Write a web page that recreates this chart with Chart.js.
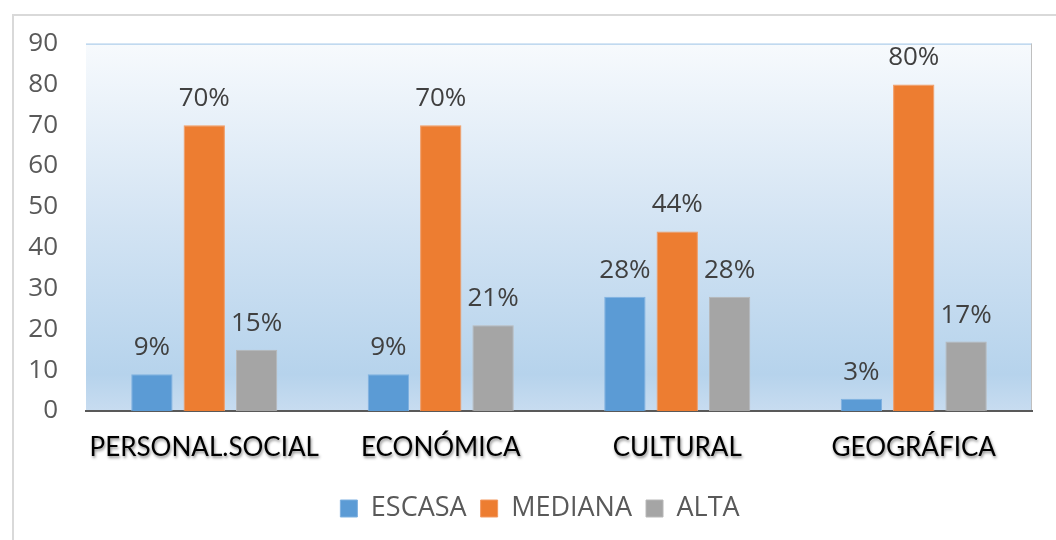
<!DOCTYPE html>
<html>
<head>
<meta charset="utf-8">
<script src="https://cdn.jsdelivr.net/npm/chart.js@4.4.0/dist/chart.umd.min.js"></script>
<style>
    body { margin: 0; background: #fff; }
    #wrap { position: relative; width: 1056px; height: 540px; overflow: hidden; }
    #frame { position: absolute; left: 12px; top: 14px; width: 1100px; height: 600px; border: 2px solid #d9d9d9; box-sizing: border-box; }
    canvas { position: absolute; left: 0; top: 0; }
</style>
</head>
<body>
<div id="wrap">
    <div id="frame"></div>
    <canvas id="chart1" width="1056" height="540"></canvas>
</div>
<script>
const categories = ['PERSONAL.SOCIAL', 'ECONÓMICA', 'CULTURAL', 'GEOGRÁFICA'];
const escasa = [9, 9, 28, 3];
const mediana = [70, 70, 44, 80];
const alta = [15, 21, 28, 17];
const seriesNames = ['ESCASA', 'MEDIANA', 'ALTA'];
const yTicks = [0, 10, 20, 30, 40, 50, 60, 70, 80, 90];

// plot background + frame lines
const plotBg = {
    id: 'plotBg',
    beforeDraw(chart) {
        const { ctx, chartArea: a } = chart;
        const g = ctx.createLinearGradient(0, a.top, 0, a.bottom);
        g.addColorStop(0, '#f7fafd');
        g.addColorStop(0.5, '#d2e3f3');
        g.addColorStop(0.9, '#b6d3ec');
        g.addColorStop(1, '#c8dcf0');
        ctx.save();
        ctx.fillStyle = g;
        ctx.fillRect(a.left, a.top, a.right - a.left, a.bottom - a.top);
        ctx.lineWidth = 1;
        ctx.strokeStyle = '#9dc3e6';
        ctx.beginPath();
        ctx.moveTo(a.left, a.top + 0.5);
        ctx.lineTo(a.right, a.top + 0.5);
        ctx.stroke();
        ctx.strokeStyle = '#bfbfbf';
        ctx.beginPath();
        ctx.moveTo(a.right - 0.5, a.top);
        ctx.lineTo(a.right - 0.5, a.bottom);
        ctx.stroke();
        ctx.restore();
    }
};

// percentage labels above bars + category labels with shadow
const barLabels = {
    id: 'barLabels',
    afterDatasetsDraw(chart) {
        const { ctx } = chart;
        ctx.save();
        ctx.font = '26px "Open Sans"';
        ctx.fillStyle = '#404040';
        ctx.textAlign = 'center';
        ctx.textBaseline = 'alphabetic';
        chart.data.datasets.forEach(function(ds, i) {
            chart.getDatasetMeta(i).data.forEach(function(bar, j) {
                ctx.fillText(ds.data[j] + '%', bar.x, bar.y - 19);
            });
        });

        const x = chart.scales.x;
        ctx.font = '26px Lato';
        ctx.fillStyle = '#000';
        ctx.textBaseline = 'middle';
        ctx.shadowColor = 'rgba(0,0,0,0.45)';
        ctx.shadowBlur = 3;
        ctx.shadowOffsetX = 1;
        ctx.shadowOffsetY = 2;
        categories.forEach(function(c, i) {
            ctx.fillText(c, x.getPixelForTick(i), 448);
        });
        ctx.restore();
    }
};

const ctx = document.getElementById('chart1').getContext('2d');
const chart = new Chart(ctx, {
    type: 'bar',
    data: {
        labels: categories,
        datasets: [
            { label: seriesNames[0], data: escasa, backgroundColor: '#5b9bd5', borderColor: '#7fb1e0', borderWidth: 1 },
            { label: seriesNames[1], data: mediana, backgroundColor: '#ed7d31', borderColor: '#f39a62', borderWidth: 1 },
            { label: seriesNames[2], data: alta, backgroundColor: '#a5a5a5', borderColor: '#b8b8b8', borderWidth: 1 }
        ]
    },
    options: {
        responsive: false,
        animation: false,
        layout: { padding: { left: 24, right: 0, top: 43, bottom: 8 } },
        datasets: { bar: { categoryPercentage: 0.664, barPercentage: 0.79 } },
        plugins: {
            legend: {
                position: 'bottom',
                labels: {
                    boxWidth: 17,
                    boxHeight: 17,
                    padding: 14,
                    color: '#595959',
                    font: { family: '"Open Sans"', size: 27 }
                }
            },
            tooltip: { enabled: false }
        },
        scales: {
            x: {
                grid: { display: false, drawTicks: false },
                border: { color: '#595959', width: 2 },
                ticks: { display: false },
                afterFit: function(scale) { scale.height = 70; }
            },
            y: {
                min: 0,
                max: 90,
                afterBuildTicks: function(scale) { scale.ticks = yTicks.map(v => ({ value: v })); },
                grid: { display: false, drawTicks: false },
                border: { display: false },
                ticks: {
                    color: '#595959',
                    padding: 28,
                    font: { family: '"Open Sans"', size: 26 }
                },
                afterFit: function(scale) { scale.width = 62; }
            },
            // empty spacer on the right so the plot ends where the original does
            yRight: {
                position: 'right',
                min: 0,
                max: 90,
                grid: { display: false, drawTicks: false },
                border: { display: false },
                ticks: { display: false },
                afterFit: function(scale) { scale.width = 24; }
            }
        }
    },
    plugins: [plotBg, barLabels]
});
</script>
</body>
</html>
